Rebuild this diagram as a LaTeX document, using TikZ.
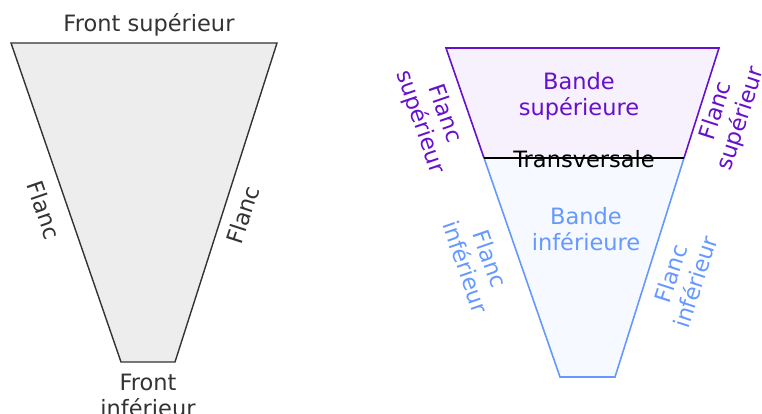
\documentclass[tikz,border=0pt]{standalone}
\usepackage{fontspec}
\setmainfont{DejaVu Sans}
\usepackage{tikz}
\definecolor{bandeviolet}{HTML}{6610CC}
\definecolor{bandebleu}{HTML}{6699FF}
\definecolor{gristrait}{HTML}{333333}
\tikzset{every node/.append style={font=\fontsize{22.5}{26}\selectfont, inner sep=0pt}}

\begin{document}
\begin{tikzpicture}[x=1pt, y=-1pt, line join=miter]
    \useasboundingbox (0,0) rectangle (762,414);
    % coupe simple
    \coordinate (hg) at (11,43);
    \coordinate (hd) at (277,43);
    \coordinate (bd) at (175,362);
    \coordinate (bg) at (121,362);
    \draw[line width=1.4pt, gristrait, fill=black!7] (hg) -- (hd) -- (bd) -- (bg) -- cycle;
    \node[gristrait] (frontsup) at (149,25) {Front supérieur};
    \node[gristrait, align=center] (frontinf) at (148,395) {Front\\inférieur};
    \node[gristrait, rotate=-71] (flancg) at (44,210) {Flanc};
    \node[gristrait, rotate=72] (flancd) at (243,215) {Flanc};

    % coupe avec transversale
    \coordinate (shg) at (446,48);
    \coordinate (shd) at (719,48);
    \coordinate (td) at (684,158);
    \coordinate (tg) at (484,158);
    \coordinate (ibd) at (615,377);
    \coordinate (ibg) at (560,377);
    \fill[bandeviolet!6] (shg) -- (shd) -- (td) -- (tg) -- cycle;
    \fill[bandebleu!6] (tg) -- (td) -- (ibd) -- (ibg) -- cycle;
    \draw[line width=1.6pt, bandeviolet] (tg) -- (shg) -- (shd) -- (td);
    \draw[line width=1.6pt, bandebleu] (tg) -- (ibg) -- (ibd) -- (td);
    \draw[line width=1.3pt, black] (tg) -- (td);
    \node[bandeviolet, align=center] (bandesup) at (579,96) {Bande\\supérieure};
    \node[bandebleu, align=center] (bandeinf) at (586,229) {Bande\\inférieure};
    \node[black] (transv) at (584,159) {Transversale};
    \node[bandeviolet, rotate=-71, align=center] (flancsupg) at (432,118) {Flanc\\supérieur};
    \node[bandeviolet, rotate=72, align=center] (flancsupd) at (729,115) {Flanc\\supérieur};
    \node[bandebleu, rotate=-71, align=center] (flancinfg) at (478,263) {Flanc\\inférieur};
    \node[bandebleu, rotate=72, align=center] (flancinfd) at (683,278) {Flanc\\inférieur};
\end{tikzpicture}
\end{document}
